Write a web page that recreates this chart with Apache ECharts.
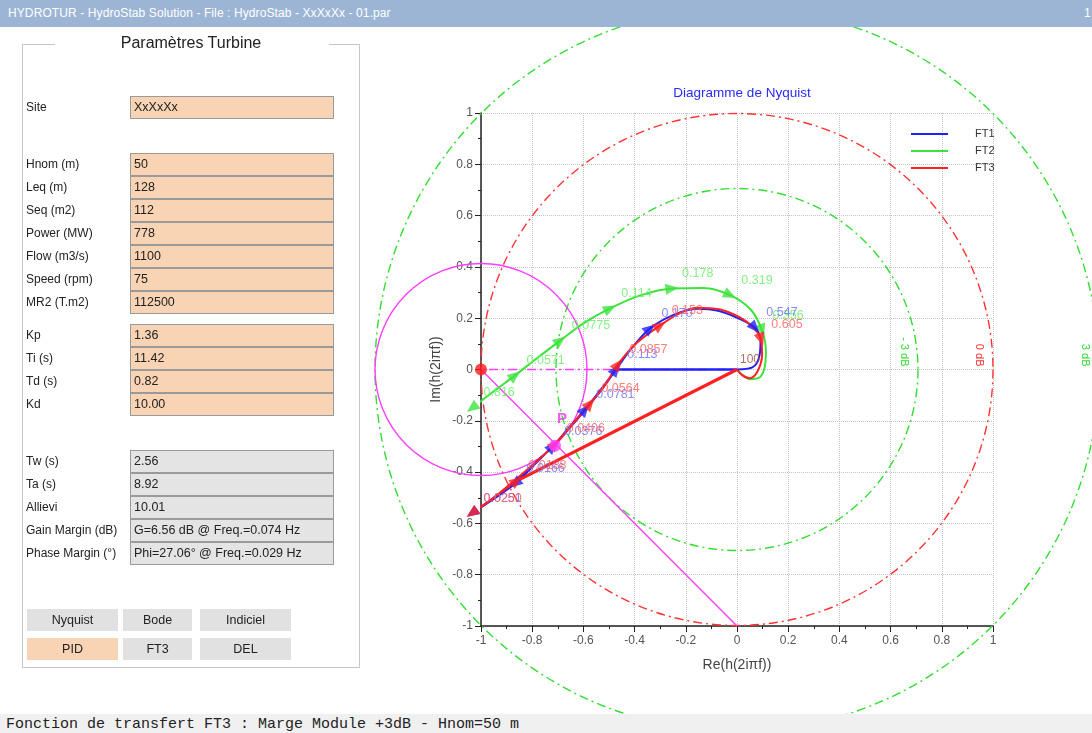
<!DOCTYPE html>
<html>
<head>
<meta charset="utf-8">
<script src="https://cdn.jsdelivr.net/npm/echarts@6/dist/echarts.min.js"></script>
<style>
  html,body{margin:0;padding:0;}
  body{width:1092px;height:733px;overflow:hidden;position:relative;background:#fff;font-family:'Liberation Sans',Arial,sans-serif;}
  #chart{position:absolute;left:0;top:0;width:1092px;height:733px;z-index:0;}
  #titlebar{position:absolute;left:0;top:0;width:1092px;height:27px;background:#9db5d5;color:#fff;font-size:12px;line-height:27px;z-index:2;}
  #titlebar .t{position:absolute;left:8px;top:0;letter-spacing:0.1px;}
  #titlebar .r{position:absolute;left:1084px;top:0;}
  #panel{position:absolute;left:0;top:0;width:370px;height:700px;z-index:2;pointer-events:none;}
  .frame{position:absolute;left:22px;top:45px;width:338px;height:623px;border:1.5px solid #c6c6c6;border-top:none;box-sizing:border-box;}
  .ftop{position:absolute;top:44px;height:0;border-top:1.5px solid #c6c6c6;}
  .gtitle{position:absolute;left:0;width:382px;top:34px;text-align:center;font-size:16px;color:#222;}
  .lab{position:absolute;left:26px;font-size:12px;color:#222;height:23px;line-height:23px;white-space:nowrap;}
  .box{position:absolute;left:130px;width:204px;height:23px;box-sizing:border-box;border:1px solid #9a9a9a;font-size:12.5px;color:#222;line-height:21px;padding-left:3px;white-space:nowrap;}
  .peach{background:#f8d3b4;}
  .grey{background:#e4e4e4;}
  .btn{position:absolute;height:22px;line-height:22px;text-align:center;font-size:12.5px;color:#222;background:#e1e1e1;}
  #status{position:absolute;left:0;top:714px;width:1092px;height:19px;background:#f0f0f0;z-index:2;font-family:'Liberation Mono','Courier New',monospace;font-size:15px;line-height:21px;color:#222;padding-left:6px;white-space:pre;}
</style>
</head>
<body>
<div id="chart"></div>
<div id="titlebar"><span class="t">HYDROTUR - HydroStab Solution - File : HydroStab - XxXxXx - 01.par</span><span class="r">1</span></div>
<div id="panel"></div>
<div id="status">Fonction de transfert FT3 : Marge Module +3dB - Hnom=50 m</div>
<script>
// ---------------- panel texts ----------------
const siteLabel = 'Site';
const siteValue = 'XxXxXx';
const turbineLabels = ['Hnom (m)','Leq (m)','Seq (m2)','Power (MW)','Flow (m3/s)','Speed (rpm)','MR2 (T.m2)'];
const turbineValues = ['50','128','112','778','1100','75','112500'];
const pidLabels = ['Kp','Ti (s)','Td (s)','Kd'];
const pidValues = ['1.36','11.42','0.82','10.00'];
const resultLabels = ['Tw (s)','Ta (s)','Allievi','Gain Margin (dB)','Phase Margin (°)'];
const resultValues = ['2.56','8.92','10.01','G=6.56 dB @ Freq.=0.074 Hz','Phi=27.06° @ Freq.=0.029 Hz'];
const buttonRow1 = ['Nyquist','Bode','Indiciel'];
const buttonRow2 = ['PID','FT3','DEL'];

// ---------------- chart data (Re, Im) ----------------
// FT1 (blue): straight closing segment, then the frequency curve
const ft1Segment = [[0,0],[-0.473,0]];
const ft1Path = [
  [-0.473,0],[-0.53,-0.08],[-0.66,-0.235],[-0.79,-0.37],[-0.867,-0.445],[-1.035,-0.56],
  [-0.95,-0.50],[-0.86,-0.43],[-0.79,-0.365],[-0.72,-0.30],[-0.655,-0.225],[-0.594,-0.156],
  [-0.53,-0.075],[-0.473,0],[-0.41,0.085],[-0.34,0.16],[-0.25,0.212],[-0.156,0.237],
  [-0.07,0.228],[0.01,0.197],[0.07,0.162],[0.092,0.115],[0.088,0.055],[0.06,0.008],[0,0]
];
const ft1Arrows = [
  [-0.867,-0.445,'0.0166'],[-1.035,-0.56,'0.0251'],[-0.72,-0.30,'0.0376'],[-0.594,-0.156,'0.0781'],
  [-0.473,0,'0.113'],[-0.34,0.16,'0.170'],[0.07,0.162,'0.547']
];
// FT2 (green)
const ft2Path = [
  [-1.035,-0.15],[-0.95,-0.085],[-0.867,-0.023],[-0.78,0.045],[-0.69,0.113],[-0.60,0.18],
  [-0.496,0.238],[-0.38,0.288],[-0.254,0.316],[-0.13,0.318],[-0.027,0.29],[0.055,0.232],
  [0.098,0.152],[0.113,0.07],[0.106,0.0],[0.085,-0.033],[0.05,-0.038],[0.02,-0.02],[0,0]
];
const ft2Arrows = [
  [-1.035,-0.15,'0.816'],[-0.867,-0.023,'0.0571'],[-0.69,0.113,'0.0775'],[-0.496,0.238,'0.114'],
  [-0.254,0.316,'0.178'],[-0.027,0.29,'0.319'],[0.098,0.152,'0.356']
];
// FT3 (red): thick closing segment, then the frequency curve
const ft3Segment = [[0,0],[-0.86,-0.434]];
const ft3Path = [
  [-0.86,-0.434],[-1.035,-0.56],[-0.95,-0.50],[-0.79,-0.365],[-0.71,-0.29],[-0.64,-0.21],
  [-0.574,-0.133],[-0.515,-0.06],[-0.465,0.02],[-0.39,0.105],[-0.30,0.172],[-0.23,0.216],
  [-0.156,0.241],[-0.07,0.235],[0.01,0.204],[0.062,0.165],[0.094,0.117],[0.098,0.058],
  [0.08,-0.008],[0.05,-0.034],[0.02,-0.022],[0,0]
];
const ft3Arrows = [
  [-0.86,-0.434,'0.0188'],[-1.035,-0.56,'0.0250'],[-0.71,-0.29,'0.0406'],[-0.574,-0.133,'0.0564'],
  [-0.465,0.02,'0.0857'],[-0.30,0.172,'0.153'],[0.094,0.117,'0.605']
];
const endLabel = [[0,0,'100']];
// reference circles [cx, cy, radius, label]
const gainCircles = [[0,0,0.707,'- 3 dB'],[0,0,1,'0 dB'],[0,0,1.414,'3 dB']];
const marginCircle = [[-1,0,0.414]];
const criticalPoint = [[-1,0]];
const pointP = [[-0.711,-0.297,'P']];
const marginLine = [[-1,0],[0,-1]];
const realAxisLine = [[-1.414,0],[0,0]];

// ---------------- build panel ----------------
const panel = document.getElementById('panel');
function add(html){ panel.insertAdjacentHTML('beforeend', html); }
add('<div class="frame"></div>');
add('<div class="ftop" style="left:22px;width:33px"></div>');
add('<div class="ftop" style="left:329px;width:31px"></div>');
add('<div class="gtitle">Paramètres Turbine</div>');
function row(label, value, top, cls){
  add('<div class="lab" style="top:'+top+'px">'+label+'</div>');
  add('<div class="box '+cls+'" style="top:'+top+'px">'+value+'</div>');
}
row(siteLabel, siteValue, 96, 'peach');
turbineLabels.forEach((l,i)=>row(l, turbineValues[i], 153+23*i, 'peach'));
pidLabels.forEach((l,i)=>row(l, pidValues[i], 324+23*i, 'peach'));
resultLabels.forEach((l,i)=>row(l, resultValues[i], 450+23*i, 'grey'));
const btnX = [[27,91],[123,69],[200,91]];
buttonRow1.forEach((b,i)=>add('<div class="btn" style="left:'+btnX[i][0]+'px;width:'+btnX[i][1]+'px;top:609px">'+b+'</div>'));
buttonRow2.forEach((b,i)=>add('<div class="btn" style="left:'+btnX[i][0]+'px;width:'+btnX[i][1]+'px;top:638px;'+(i===0?'background:#f8d3b4;':'')+'">'+b+'</div>'));

// ---------------- chart ----------------
const C = {
  blue:'#2020ff', blueLab:'#6b6bff',
  green:'#3ee23e', greenLab:'#66ee66',
  red:'#ff2121', redLab:'#ff5c5c',
  mag:'#ff3dff'
};
const FONT = "'Liberation Sans', Arial, sans-serif";

function arrowData(path, arrows){
  return arrows.map(a=>{
    let idx = -1;
    for(let i=path.length-1;i>=0;i--){ if(path[i][0]===a[0] && path[i][1]===a[1]){ idx=i; break; } }
    const p = path[idx];
    let dx, dy;
    if(idx>0){
      const q = path[idx-1];
      const n = path[Math.min(idx+1, path.length-1)];
      const ix = p[0]-q[0], iy = p[1]-q[1], ox = n[0]-p[0], oy = n[1]-p[1];
      if(ix*ox+iy*oy > 0){ dx = ix/Math.hypot(ix,iy)+ox/Math.hypot(ox,oy); dy = iy/Math.hypot(ix,iy)+oy/Math.hypot(ox,oy); }
      else { dx = ix; dy = iy; }
    } else { dx = p[0]-path[1][0]; dy = p[1]-path[1][1]; }
    const rot = Math.atan2(dy, dx)*180/Math.PI - 90;
    return {value:[a[0],a[1]], symbolRotate: rot, name:a[2]};
  });
}
function lineSeries(name, data, color, width, z){
  return {name, type:'line', data, showSymbol:false, symbol:'none', clip:false, z:z||3, smooth:0.35,
    lineStyle:{color, width}, itemStyle:{color}, animation:false};
}
function arrowSeries(name, path, arrows, color, labColor){
  return {name, type:'scatter', data: arrowData(path, arrows), symbol:'triangle', symbolSize:[11,13],
    clip:false, z:5, itemStyle:{color}, animation:false,
    label:{show:true, position:'right', distance:3, offset:[0,-15], formatter:p=>p.name,
      color:labColor, fontSize:12.5, fontFamily:FONT}};
}

const chart = echarts.init(document.getElementById('chart'), null, {renderer:'canvas'});
const circleColors = ['#33dd33','#ff3333','#33dd33'];
const option = {
  backgroundColor:'transparent',
  animation:false,
  title:{text:'Diagramme de Nyquist', left:737, top:81, textAlign:'center',
    textStyle:{color:'#2b2bff', fontSize:13.5, fontWeight:'normal', fontFamily:FONT}},
  legend:{data:['FT1','FT2','FT3'], orient:'vertical', left:906, top:123, icon:'rect',
    itemWidth:37, itemHeight:2, itemGap:5,
    textStyle:{fontSize:11, color:'#333', fontFamily:FONT, padding:[0,0,0,22], lineHeight:12}},
  grid:{left:481, top:113, width:512, height:513},
  xAxis:{type:'value', min:-1, max:1, interval:0.2,
    name:'Re(h(2iπf))', nameLocation:'middle', nameGap:32,
    nameTextStyle:{fontSize:14, color:'#444', fontFamily:FONT},
    axisLine:{onZero:false, lineStyle:{color:'#222', width:1.5}},
    axisTick:{show:true, length:6, lineStyle:{color:'#222'}},
    minorTick:{show:true, splitNumber:2, length:3, lineStyle:{color:'#222'}},
    splitLine:{show:true, lineStyle:{type:'dotted', color:'#c4c4c4'}},
    axisLabel:{color:'#555', fontSize:12, margin:9, fontFamily:FONT}},
  yAxis:{type:'value', min:-1, max:1, interval:0.2,
    name:'Im(h(2iπf))', nameLocation:'middle', nameGap:38,
    nameTextStyle:{fontSize:14, color:'#444', fontFamily:FONT},
    axisLine:{onZero:false, lineStyle:{color:'#222', width:1.5}},
    axisTick:{show:true, length:6, lineStyle:{color:'#222'}},
    minorTick:{show:true, splitNumber:2, length:3, lineStyle:{color:'#222'}},
    splitLine:{show:true, lineStyle:{type:'dotted', color:'#c4c4c4'}},
    axisLabel:{color:'#555', fontSize:12, margin:8, fontFamily:FONT}},
  series:[
    {name:'gain circles', type:'custom', data:gainCircles, clip:false, z:1, silent:true,
      renderItem:function(params, api){
        const c = api.coord([api.value(0), api.value(1)]);
        const r = api.size([api.value(2), 0])[0];
        const col = circleColors[params.dataIndex];
        return {type:'group', children:[
          {type:'circle', shape:{cx:c[0], cy:c[1], r:r},
            style:{fill:null, stroke:col, lineWidth:1.4, lineDash:[9,4,2,4]}},
          {type:'text', x:c[0]+r-14, y:c[1]-3, rotation:-Math.PI/2,
            style:{text:gainCircles[params.dataIndex][3], fill:col, font:'11px '+FONT, align:'right', verticalAlign:'middle'}}
        ]};
      }},
    {name:'margin circle', type:'custom', data:marginCircle, clip:false, z:1, silent:true,
      renderItem:function(params, api){
        const c = api.coord([api.value(0), api.value(1)]);
        const r = api.size([api.value(2), 0])[0];
        return {type:'circle', shape:{cx:c[0], cy:c[1], r:r},
          style:{fill:null, stroke:C.mag, lineWidth:1.4}};
      }},
    {name:'margin line', type:'line', data:marginLine, symbol:'none', clip:false, z:2,
      lineStyle:{color:C.mag, width:1.4}},
    {name:'real axis', type:'line', data:realAxisLine, symbol:'none', clip:false, z:2,
      lineStyle:{color:C.mag, width:1.4, type:[9,4,2,4]}},
    lineSeries('FT2', ft2Path, C.green, 2, 3),
    {name:'FT1 segment', type:'line', data:ft1Segment, symbol:'none', clip:false, z:4,
      lineStyle:{color:C.blue, width:2.4}},
    lineSeries('FT1', ft1Path, C.blue, 2, 4),
    lineSeries('FT3', ft3Path, C.red, 2, 4),
    {name:'FT3 segment', type:'line', data:ft3Segment, symbol:'none', clip:false, z:4,
      lineStyle:{color:C.red, width:3.2}},
    arrowSeries('FT2 arrows', ft2Path, ft2Arrows, C.green, C.greenLab),
    arrowSeries('FT1 arrows', ft1Path, ft1Arrows, C.blue, C.blueLab),
    arrowSeries('FT3 arrows', ft3Path, ft3Arrows, C.red, C.redLab),
    {name:'end', type:'scatter', data:endLabel.map(d=>({value:[d[0],d[1]], name:d[2]})), symbolSize:0, clip:false, z:6,
      label:{show:true, position:'right', distance:0, offset:[3,-10], formatter:p=>p.name,
        color:'#9c4b3b', fontSize:12, fontFamily:FONT}},
    {name:'critical', type:'scatter', data:criticalPoint, symbol:'circle', symbolSize:12, clip:false, z:6,
      itemStyle:{color:'#ff1a1a'}},
    {name:'P', type:'scatter', data:pointP.map(d=>({value:[d[0],d[1]], name:d[2]})), symbol:'circle', symbolSize:12, clip:false, z:6,
      itemStyle:{color:C.mag},
      label:{show:true, position:'right', distance:0, offset:[-4,-27], formatter:p=>p.name,
        color:'#ee33ee', fontSize:15, fontWeight:'bold', fontFamily:FONT}}
  ]
};
chart.setOption(option);
</script>
</body>
</html>
